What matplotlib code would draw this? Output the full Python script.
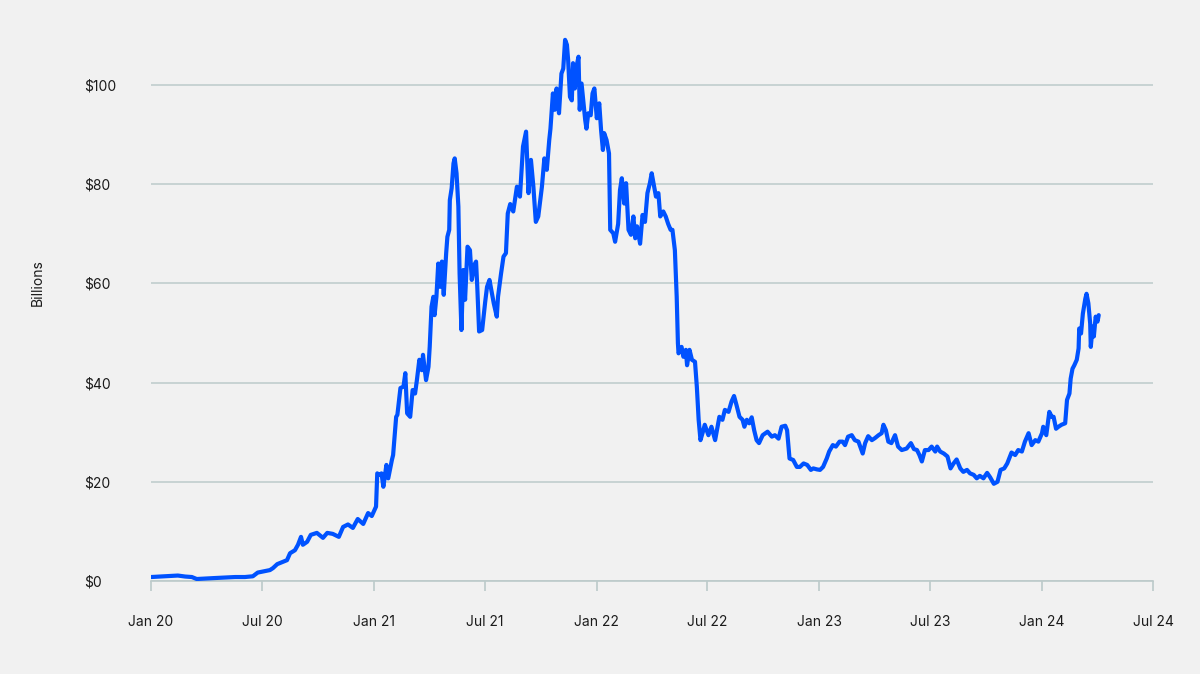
import matplotlib
matplotlib.use("Agg")
import matplotlib.pyplot as plt
import pandas as pd

# Days since 2020-01-01 and value in billions of USD
days = [0, 15, 31, 44, 56, 67, 75, 89, 105, 121, 138, 154, 167, 175, 195, 200, 207, 223, 228, 236,
        241, 246, 249, 256, 262, 272, 282, 289, 298, 308, 315, 323, 331, 339, 348, 356, 362, 369, 371, 374,
        378, 381, 386, 389, 395, 397, 402, 404, 409, 414, 417, 420, 425, 429, 433, 436, 440, 444, 446, 451,
        455, 457, 460, 463, 465, 468, 471, 474, 477, 480, 484, 486, 489, 490, 493, 496, 498, 501, 504, 506,
        509, 512, 515, 519, 523, 526, 530, 533, 535, 538, 543, 548, 551, 555, 559, 562, 567, 569, 574, 578,
        582, 585, 589, 594, 600, 605, 610, 615, 619, 623, 627, 631, 635, 641, 645, 649, 653, 655, 659, 662,
        665, 669, 673, 676, 679, 682, 684, 687, 690, 692, 695, 698, 701, 703, 706, 709, 712, 714, 717, 721,
        724, 727, 731, 735, 738, 741, 743, 747, 751, 753, 758, 761, 766, 769, 772, 776, 779, 783, 787, 791,
        794, 797, 802, 806, 810, 814, 818, 821, 825, 828, 832, 835, 840, 844, 848, 852, 855, 859, 862, 864,
        865, 870, 873, 877, 879, 883, 887, 892, 895, 898, 901, 905, 908, 914, 919, 925, 932, 937, 941, 947,
        952, 956, 960, 965, 970, 973, 977, 981, 985, 989, 993, 997, 1003, 1011, 1018, 1023, 1029, 1034, 1040, 1043,
        1047, 1053, 1059, 1064, 1070, 1076, 1082, 1086, 1092, 1097, 1102, 1108, 1112, 1118, 1123, 1129, 1134, 1138, 1143, 1149,
        1154, 1160, 1167, 1171, 1176, 1182, 1187, 1193, 1198, 1201, 1205, 1209, 1214, 1220, 1225, 1231, 1239, 1246, 1251, 1256,
        1260, 1264, 1269, 1275, 1280, 1286, 1289, 1294, 1300, 1306, 1311, 1316, 1321, 1327, 1332, 1338, 1343, 1349, 1354, 1359,
        1365, 1371, 1376, 1382, 1388, 1393, 1399, 1404, 1411, 1417, 1422, 1428, 1433, 1439, 1444, 1450, 1455, 1461, 1463, 1468,
        1473, 1477, 1480, 1484, 1488, 1493, 1499, 1502, 1506, 1508, 1511, 1514, 1518, 1521, 1522, 1525, 1528, 1532, 1534, 1537,
        1540, 1541, 1544, 1546, 1549, 1552, 1554]

values = [0.8, 0.9, 1.0, 1.1, 0.9, 0.8, 0.4, 0.5, 0.6, 0.7, 0.8, 0.8, 0.95, 1.7, 2.2, 2.6, 3.4, 4.2, 5.6, 6.2,
          7.3, 8.9, 7.3, 7.9, 9.3, 9.7, 8.7, 9.7, 9.5, 8.9, 10.9, 11.4, 10.7, 12.5, 11.5, 13.7, 13.1, 15.0, 21.7, 21.4,
          21.7, 19.0, 23.4, 20.7, 24.4, 25.4, 33.1, 33.5, 38.9, 39.2, 41.9, 33.8, 33.1, 38.5, 37.8, 40.5, 44.6, 42.5, 45.6, 40.5,
          43.2, 47.2, 55.3, 57.3, 53.6, 57.3, 64.0, 59.3, 64.4, 57.7, 66.1, 69.4, 70.8, 76.8, 79.2, 84.2, 85.2, 82.2, 75.5, 62.0,
          50.6, 62.7, 56.7, 67.4, 66.7, 60.7, 63.7, 64.4, 59.3, 50.3, 50.6, 56.3, 59.3, 60.7, 58.0, 56.0, 53.3, 57.3, 62.0, 65.4,
          66.1, 74.1, 76.0, 74.5, 79.5, 77.5, 87.6, 90.6, 78.2, 84.9, 79.5, 72.4, 73.5, 79.5, 85.2, 82.9, 88.9, 91.2, 98.3, 95.0,
          99.3, 94.3, 102.3, 103.3, 109.1, 108.1, 105.0, 97.6, 96.9, 104.4, 99.3, 103.9, 105.7, 95.0, 100.3, 96.6, 92.9, 91.2, 94.3, 93.9,
          98.3, 99.3, 93.3, 96.3, 90.9, 86.9, 90.3, 88.9, 86.2, 70.8, 70.1, 68.4, 72.0, 78.8, 81.2, 76.1, 80.2, 70.8, 69.8, 73.5,
          69.1, 71.5, 68.0, 73.8, 72.4, 78.2, 80.2, 82.2, 79.5, 77.5, 78.2, 73.5, 74.5, 73.5, 72.0, 70.8, 70.8, 66.7, 57.3, 47.9,
          45.9, 47.2, 45.2, 46.6, 43.5, 46.6, 44.6, 44.2, 39.2, 32.5, 28.4, 30.1, 31.5, 29.4, 31.1, 28.4, 33.1, 32.5, 34.5, 34.1,
          36.2, 37.3, 35.5, 33.1, 32.5, 31.1, 32.5, 31.8, 33.0, 30.4, 28.4, 27.8, 29.4, 30.1, 29.1, 29.4, 28.7, 31.1, 31.3, 30.4,
          24.7, 24.4, 23.0, 23.0, 23.7, 23.4, 22.4, 22.7, 22.5, 22.4, 23.0, 24.7, 26.1, 27.4, 27.1, 28.1, 28.1, 27.4, 29.1, 29.4,
          28.4, 28.1, 25.7, 27.8, 29.2, 28.4, 28.8, 29.4, 29.8, 31.5, 30.4, 28.1, 27.8, 29.4, 27.1, 26.4, 26.7, 27.8, 26.6, 26.4,
          25.4, 24.1, 26.4, 26.4, 27.1, 26.1, 27.1, 26.1, 25.7, 25.1, 22.7, 23.7, 24.5, 22.7, 22.0, 22.4, 21.7, 21.4, 20.7, 21.2,
          20.7, 21.8, 20.9, 19.6, 20.0, 22.4, 22.7, 23.7, 25.9, 25.4, 26.4, 26.1, 28.1, 29.8, 27.4, 28.4, 28.1, 29.8, 31.1, 29.4,
          34.1, 33.1, 33.1, 30.7, 31.1, 31.5, 31.8, 36.5, 37.8, 40.8, 42.8, 43.5, 44.6, 46.9, 50.9, 49.9, 53.9, 56.9, 57.9, 56.0,
          51.9, 47.2, 51.3, 49.3, 53.3, 52.3, 53.6]

y_ticks = [0, 20, 40, 60, 80, 100]
y_tick_labels = ["$0", "$20", "$40", "$60", "$80", "$100"]
x_tick_dates = ["2020-01-01", "2020-07-01", "2021-01-01", "2021-07-01", "2022-01-01",
                "2022-07-01", "2023-01-01", "2023-07-01", "2024-01-01", "2024-07-01"]
x_tick_labels = ["Jan 20", "Jul 20", "Jan 21", "Jul 21", "Jan 22",
                 "Jul 22", "Jan 23", "Jul 23", "Jan 24", "Jul 24"]
y_label = "Billions"

plt.rcParams['font.family'] = ['Inter', 'DejaVu Sans']

BG = "#f1f1f1"
GRID = "#bccaca"
TEXT = "#1b1b1b"
LINE = "#0052ff"

dates = pd.Timestamp("2020-01-01") + pd.to_timedelta(days, unit="D")

fig = plt.figure(figsize=(12, 6.74), dpi=100, facecolor=BG)
ax = fig.add_axes([151/1200, 1-581/674, (1153-151)/1200, (581-35.4)/674])
ax.set_facecolor(BG)

ax.plot(dates, values, color=LINE, linewidth=3.0, solid_joinstyle="round", solid_capstyle="round", zorder=3)

ax.set_ylim(0, 110)
ax.set_xlim(pd.Timestamp("2020-01-01"), pd.Timestamp("2024-07-01"))

ax.set_yticks(y_ticks)
ax.set_yticklabels(y_tick_labels)
ax.set_xticks(pd.to_datetime(x_tick_dates))
ax.set_xticklabels(x_tick_labels)

for s in ["top", "right", "left"]:
    ax.spines[s].set_visible(False)
ax.spines["bottom"].set_color(GRID)
ax.spines["bottom"].set_linewidth(1.2)
ax.spines["bottom"].set_zorder(1)

ax.grid(axis="y", color=GRID, linewidth=1.1, zorder=0)
ax.set_axisbelow(True)

ax.tick_params(axis="x", direction="out", length=7.5, width=1.2, color=GRID,
               labelsize=10, labelcolor=TEXT, pad=17)
ax.tick_params(axis="y", length=0, labelsize=10, labelcolor=TEXT, pad=48)
for lbl in ax.get_yticklabels():
    lbl.set_horizontalalignment("left")

fig.text(38/1200, 1-283/674, y_label, rotation=90, ha="center", va="center",
         fontsize=10, color=TEXT)

fig.savefig("out.png", dpi=100, facecolor=BG)
